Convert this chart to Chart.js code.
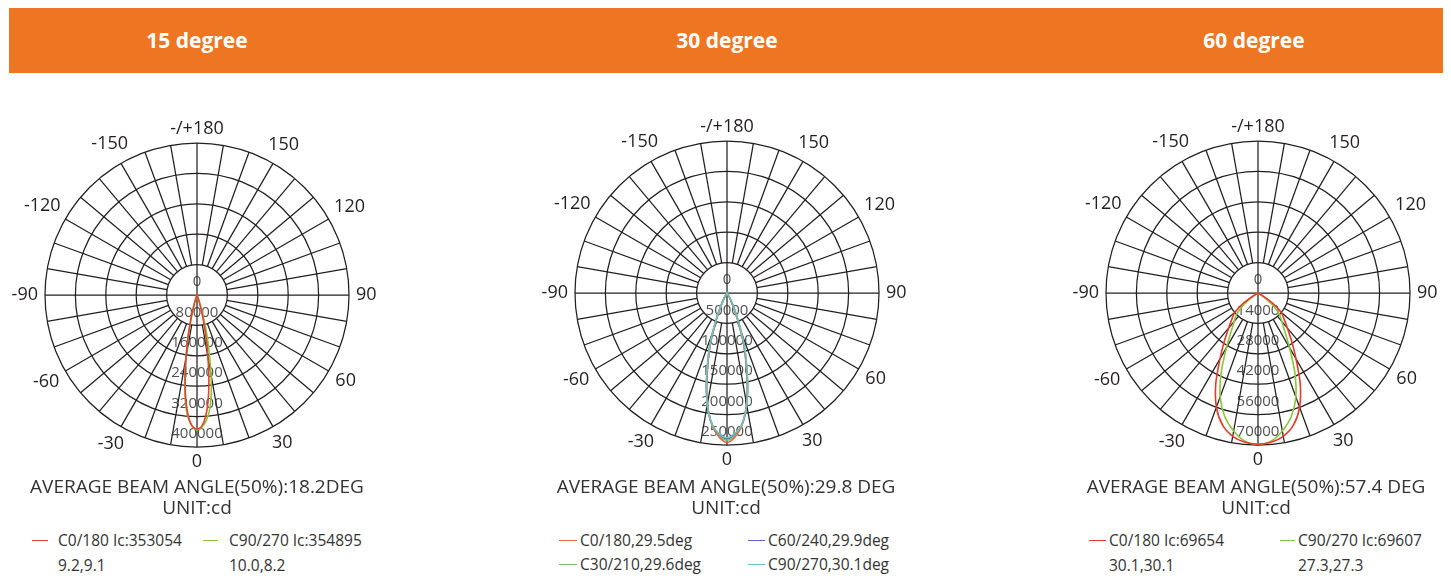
<!DOCTYPE html>
<html>
<head>
<meta charset="utf-8">
<style>
  body { margin:0; width:1451px; height:579px; background:#fff; position:relative; overflow:hidden;
         font-family:"Open Sans", "Noto Sans", sans-serif; color:#333; }
  .banner { position:absolute; left:9px; top:8px; width:1434px; height:65px; background:#ee7623; }
  .title { position:absolute; top:8px; height:65px; line-height:65px; width:300px; margin-left:-150px;
           text-align:center; color:#fff; font-weight:bold; font-size:21px; }
  canvas { position:absolute; }
  .beam { position:absolute; top:476px; width:440px; margin-left:-220px; text-align:center;
          font-size:19px; line-height:21px; color:#333; }
  .lg { position:absolute; font-size:15.5px; line-height:18px; color:#333; white-space:nowrap; }
  .ln { position:absolute; height:0; border-top:1.5px solid #000; }
</style>
</head>
<body>
<div class="banner"></div>
<div class="title" style="left:197px">15 degree</div>
<div class="title" style="left:727px">30 degree</div>
<div class="title" style="left:1254px">60 degree</div>

<canvas id="chart15" width="420" height="400" style="left:-13px; top:95px"></canvas>
<canvas id="chart30" width="420" height="400" style="left:517px; top:93px"></canvas>
<canvas id="chart60" width="420" height="400" style="left:1048px; top:93px"></canvas>

<div class="beam" style="left:197px">AVERAGE BEAM ANGLE(50%):18.2DEG<br>UNIT:cd</div>
<div class="beam" style="left:726px">AVERAGE BEAM ANGLE(50%):29.8 DEG<br>UNIT:cd</div>
<div class="beam" style="left:1256px">AVERAGE BEAM ANGLE(50%):57.4 DEG<br>UNIT:cd</div>

<div id="legends"></div>

<script src="https://cdn.jsdelivr.net/npm/chart.js@4.4.1/dist/chart.umd.min.js"></script>
<script>
// angle tick labels, clockwise from the top
var angleTicks = ['-/+180', '150', '120', '90', '60', '30', '0', '-30', '-60', '-90', '-120', '-150'];

// 15 degree (gamma in deg, intensity in cd)
var gamma15 = [-24, -20, -18, -16, -14, -12, -10, -8, -6, -4, -2, 0, 2, 4, 6, 8, 10, 12, 14, 16, 18, 20, 24];
var c0_15  = [0, 6000, 17000, 38000, 70000, 115000, 165000, 225000, 280000, 322000, 346000, 353054,
              346000, 322000, 280000, 225000, 165000, 115000, 70000, 38000, 17000, 6000, 0];
var c90_15 = [0, 5000, 14000, 32000, 62000, 110000, 165000, 232000, 288000, 326000, 347000, 354895,
              349000, 334000, 308000, 268000, 212000, 155000, 105000, 62000, 32000, 12000, 0];

// 30 degree
var gamma30 = [-36, -30, -27, -24, -21, -18, -15, -12, -9, -6, -3, 0, 3, 6, 9, 12, 15, 18, 21, 24, 27, 30, 36];
var c0_30  = [0, 6000, 15000, 30000, 55000, 89000, 122000, 161000, 196000, 222000, 238000, 246000,
              238000, 222000, 196000, 161000, 122000, 89000, 55000, 30000, 15000, 6000, 0];
var c30_30 = [0, 6000, 15000, 31000, 56000, 90000, 123000, 162000, 197000, 222000, 236000, 242000,
              236000, 222000, 197000, 162000, 123000, 90000, 56000, 31000, 15000, 6000, 0];
var c60_30 = [0, 6500, 16000, 32000, 57000, 91000, 124000, 163000, 197000, 221000, 234000, 240000,
              234000, 221000, 197000, 163000, 124000, 91000, 57000, 32000, 16000, 6500, 0];
var c90_30 = [0, 7000, 17000, 33000, 59000, 93000, 126000, 164000, 197000, 220000, 232000, 238000,
              232000, 220000, 197000, 164000, 126000, 93000, 59000, 33000, 17000, 7000, 0];

// 60 degree
var gamma60 = [-65, -60, -55, -50, -45, -40, -35, -30, -25, -20, -15, -10, -5, 0,
               5, 10, 15, 20, 25, 30, 35, 40, 45, 50, 55, 60, 65];
var c0_60  = [0, 2000, 8000, 14000, 17000, 21000, 27000, 35000, 46000, 56000, 63000, 67000, 69000, 69654,
              69000, 67000, 63000, 56000, 46000, 35000, 27000, 21000, 17000, 14000, 8000, 2000, 0];
var c90_60 = [0, 0, 3000, 9000, 14000, 17000, 21500, 29000, 40000, 51000, 59000, 64500, 68500, 69607,
              68500, 64500, 59000, 51000, 40000, 29000, 21500, 17000, 14000, 9000, 3000, 0, 0];

var angleLabels = [];
for (var i = 0; i < 360; i++) angleLabels.push(String(180 - i));

function toRadar(gammas, values) {
  var data = new Array(360).fill(null);
  gammas.forEach(function (g, i) { data[180 - g] = values[i]; });
  return data;
}

// spokes, angle labels and ring labels
var polarGrid = {
  id: 'polarGrid',
  beforeDatasetsDraw: function (chart) {
    var s = chart.scales.r, ctx = chart.ctx;
    var R = s.drawingArea;
    var inner = s.getDistanceFromCenterForValue(s.ticks[1].value);
    ctx.save();
    ctx.strokeStyle = '#231f20';
    ctx.lineWidth = 1.25;
    for (var k = 0; k < 36; k++) {
      var from = (k % 9 === 0) ? 0 : inner;
      var p0 = s.getPointPosition(k * 10, from);
      var p1 = s.getPointPosition(k * 10, R);
      ctx.beginPath();
      ctx.moveTo(p0.x, p0.y);
      ctx.lineTo(p1.x, p1.y);
      ctx.stroke();
    }
    // angle labels
    ctx.font = '18px "Open Sans"';
    ctx.fillStyle = '#231f20';
    ctx.textAlign = 'center';
    ctx.textBaseline = 'middle';
    angleTicks.forEach(function (t, k) {
      var a = s.getIndexAngle(k * 30);
      var w = ctx.measureText(t).width, h = 15;
      var d = R + 7 + Math.abs(Math.sin(a)) * w / 2 + Math.abs(Math.cos(a)) * h / 2;
      var p = s.getPointPosition(k * 30, d);
      ctx.fillText(t, p.x, p.y);
    });
    // ring labels, along the 0 direction
    ctx.font = '15px "Open Sans"';
    ctx.fillStyle = 'rgba(50,50,50,0.85)';
    s.ticks.forEach(function (t) {
      var d = s.getDistanceFromCenterForValue(t.value);
      ctx.fillText(String(t.value), s.xCenter, s.yCenter + d - 13);
    });
    ctx.restore();
  }
};

function makeChart(id, max, step, sets) {
  new Chart(document.getElementById(id), {
    type: 'radar',
    data: {
      labels: angleLabels,
      datasets: sets.map(function (d) {
        return {
          label: d.label,
          data: toRadar(d.gamma, d.values),
          borderColor: d.color,
          borderWidth: 1.6,
          pointRadius: 0,
          fill: false,
          spanGaps: true,
          tension: 0.25,
          order: d.order || 0
        };
      })
    },
    options: {
      responsive: false,
      animation: false,
      layout: { padding: { left: 58, right: 58, top: 48, bottom: 48 } },
      plugins: { legend: { display: false }, tooltip: { enabled: false } },
      scales: {
        r: {
          min: 0, max: max,
          ticks: { display: false, stepSize: step },
          grid: { circular: true, color: '#231f20', lineWidth: 1.25 },
          angleLines: { display: false },
          pointLabels: { display: false }
        }
      }
    },
    plugins: [polarGrid]
  });
}

var sets15 = [
  { label: 'C0/180 Ic:353054', sub: '9.2,9.1', gamma: gamma15, values: c0_15, color: '#e2452d' },
  { label: 'C90/270 Ic:354895', sub: '10.0,8.2', gamma: gamma15, values: c90_15, color: '#8cc63f', order: 1 }
];
var sets30 = [
  { label: 'C0/180,29.5deg', gamma: gamma30, values: c0_30, color: '#e8643c', order: 1 },
  { label: 'C30/210,29.6deg', gamma: gamma30, values: c30_30, color: '#7dc36a', order: 2 },
  { label: 'C60/240,29.9deg', gamma: gamma30, values: c60_30, color: '#5b62c9', order: 3 },
  { label: 'C90/270,30.1deg', gamma: gamma30, values: c90_30, color: '#6cc3c6', order: 0 }
];
var sets60 = [
  { label: 'C0/180 Ic:69654', sub: '30.1,30.1', gamma: gamma60, values: c0_60, color: '#e53a2c' },
  { label: 'C90/270 Ic:69607', sub: '27.3,27.3', gamma: gamma60, values: c90_60, color: '#8cc63f' }
];

makeChart('chart15', 400000, 80000, sets15);
makeChart('chart30', 250000, 50000, sets30);
makeChart('chart60', 70000, 14000, sets60);

// legends: [set, line x, line width, text x, row y, second row y]
var legendItems = [
  [sets15[0], 32, 16, 58, 541, 566], [sets15[1], 203, 15, 229, 541, 566],
  [sets30[0], 559, 18, 580, 541], [sets30[2], 748, 17, 768, 541],
  [sets30[1], 559, 18, 580, 565], [sets30[3], 748, 17, 768, 565],
  [sets60[0], 1089, 17, 1109, 541, 566], [sets60[1], 1280, 15, 1298, 541, 566]
];
var html = '';
legendItems.forEach(function (it) {
  var s = it[0];
  html += '<div class="ln" style="left:' + it[1] + 'px;top:' + (it[4] - 1) + 'px;width:' + it[2] +
          'px;border-top-color:' + s.color + '"></div>';
  html += '<div class="lg" style="left:' + it[3] + 'px;top:' + (it[4] - 10) + 'px">' + s.label + '</div>';
  if (it[5]) html += '<div class="lg" style="left:' + it[3] + 'px;top:' + (it[5] - 10) + 'px">' + s.sub + '</div>';
});
document.getElementById('legends').innerHTML = html;
</script>
</body>
</html>
